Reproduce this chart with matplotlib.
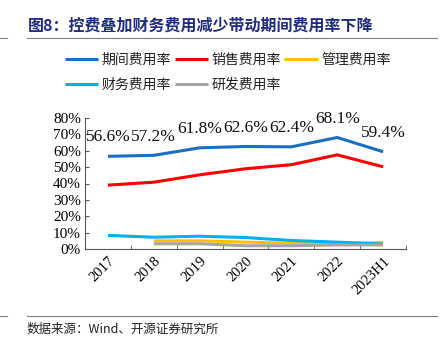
import matplotlib
matplotlib.use("Agg")
import matplotlib.pyplot as plt
import numpy as np

plt.rcParams['font.family'] = ['Liberation Serif', 'Noto Sans CJK SC', 'DejaVu Sans']

# ── data ─────────────────────────────────────────────────────────────────────
years = ["2017", "2018", "2019", "2020", "2021", "2022", "2023H1"]
period_rate = [56.6, 57.2, 61.8, 62.6, 62.4, 68.1, 59.4]
sales_rate = [39.0, 40.8, 45.3, 49.0, 51.5, 57.5, 50.2]
admin_rate = [np.nan, 5.0, 5.0, 4.2, 3.5, 3.2, 4.0]
finance_rate = [8.3, 7.2, 7.8, 7.0, 5.2, 4.2, 3.0]
rd_rate = [np.nan, 3.2, 3.2, 2.0, 2.0, 2.5, 2.5]

SERIES = [
    ("期间费用率", period_rate, "#1a6fc0"),
    ("销售费用率", sales_rate, "#ff0000"),
    ("管理费用率", admin_rate, "#ffc000"),
    ("财务费用率", finance_rate, "#00b0f0"),
    ("研发费用率", rd_rate, "#a5a5a5"),
]

W, H = 445, 341
fig = plt.figure(figsize=(W / 100, H / 100), dpi=100)

# ── header / footer ──────────────────────────────────────────────────────────
fig.text(28 / W, 1 - 26 / H, "图8：控费叠加财务费用减少带动期间费用率下降",
         family=['Noto Sans CJK SC'], fontsize=11.5, fontweight="bold",
         color="#1f2d7a", va="center", ha="left")
for y in (38, 316):
    fig.add_artist(plt.Line2D([27 / W, 437 / W], [1 - y / H] * 2,
                              color="#7f7f7f", linewidth=0.8))
    fig.add_artist(plt.Line2D([0, 7 / W], [1 - y / H] * 2,
                              color="#7f7f7f", linewidth=0.8))
fig.text(27 / W, 1 - 329 / H, "数据来源：Wind、开源证券研究所",
         family=['Noto Sans CJK SC'], fontsize=9, color="#222222",
         va="center", ha="left")

# ── main axes ────────────────────────────────────────────────────────────────
ax = fig.add_axes([85 / W, 1 - 249 / H, 321 / W, 131 / H])
x = np.arange(len(years))
for label, vals, color in SERIES:
    ax.plot(x, vals, color=color, linewidth=2.2, label=label, solid_capstyle="butt")

for xi, v in zip(x, period_rate):
    ax.text(xi, v + 11.5, f"{v:.1f}%", ha="center", va="center",
            fontsize=12.5, color="#111111", clip_on=False)

ax.set_xlim(-0.5, len(years) - 0.5)
ax.set_ylim(0, 80)
ax.set_yticks(range(0, 81, 10))
ax.set_yticklabels([f"{t}%" for t in range(0, 81, 10)], fontsize=11)
ax.set_xticks(x)
ax.set_xticklabels(years, rotation=45, ha="right", rotation_mode="anchor",
                   fontsize=10.5)
ax.set_xticks(np.arange(0.5, len(years), 1.0), minor=True)
ax.tick_params(axis="x", which="major", length=0, pad=4)
ax.tick_params(axis="x", which="minor", direction="in", length=3,
               color="#595959")
ax.tick_params(axis="y", direction="in", length=3, color="#595959", pad=3)
for side in ("top", "right"):
    ax.spines[side].set_visible(False)
for side in ("left", "bottom"):
    ax.spines[side].set_color("#595959")
    ax.spines[side].set_linewidth(0.8)

# ── legend (row-major order across 3 columns) ────────────────────────────────
handles, labels = ax.get_legend_handles_labels()
order = [0, 3, 1, 4, 2]
leg = fig.legend([handles[i] for i in order], [labels[i] for i in order],
                 ncol=3, loc="upper left",
                 bbox_to_anchor=(65 / W, 1 - 53 / H), frameon=False,
                 prop={"family": ["Noto Sans CJK SC"], "size": 10},
                 handlelength=2.4, handletextpad=0.25, columnspacing=0.25,
                 labelspacing=0.75, borderaxespad=0, borderpad=0)
for t in leg.get_texts():
    t.set_color("#222222")

fig.savefig("out.png", dpi=100)
